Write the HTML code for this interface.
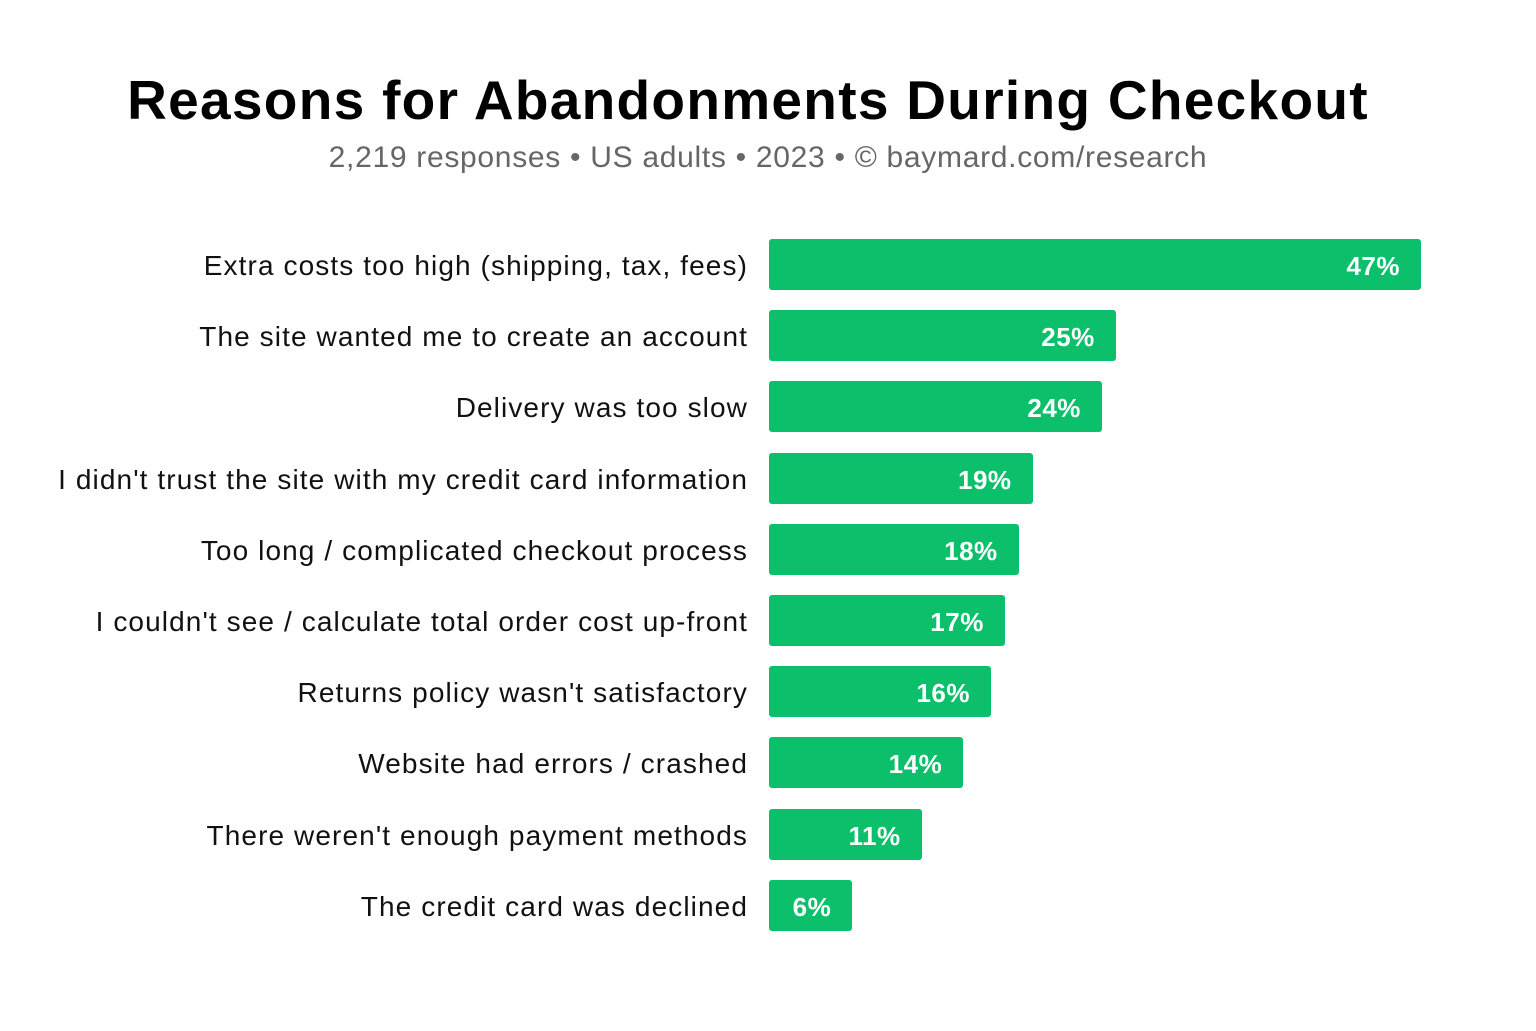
<!DOCTYPE html>
<html><head><meta charset="utf-8"><style>
body{margin:0;width:1536px;height:1031px;background:#fff;font-family:"Liberation Sans",sans-serif;position:relative;overflow:hidden}
#title{position:absolute;top:68px;left:0;width:1496px;text-align:center;font-size:55px;font-weight:bold;color:#000;letter-spacing:1.3px}
#sub{position:absolute;top:141px;left:0;width:1536px;text-align:center;font-size:30px;color:#666;letter-spacing:0.7px}
.lab{position:absolute;right:788px;font-size:28px;color:#111;white-space:nowrap;line-height:51px;letter-spacing:1.1px}
.bar{position:absolute;left:769px;height:51px;background:#0bbf6b;border-radius:3px}
.val{position:absolute;right:21px;top:0;line-height:55px;color:#fff;font-weight:bold;font-size:26px;letter-spacing:0.5px}
</style></head><body>
<div id="title">Reasons for Abandonments During Checkout</div>
<div id="sub">2,219 responses • US adults • 2023 • © baymard.com/research</div>
<div id="chart"></div>
<script>
const categories=["Extra costs too high (shipping, tax, fees)","The site wanted me to create an account","Delivery was too slow","I didn't trust the site with my credit card information","Too long / complicated checkout process","I couldn't see / calculate total order cost up-front","Returns policy wasn't satisfactory","Website had errors / crashed","There weren't enough payment methods","The credit card was declined"];
const values=[47,25,24,19,18,17,16,14,11,6];
const valueLabels=["47%","25%","24%","19%","18%","17%","16%","14%","11%","6%"];
const x=v=>v*652/47;
const y=i=>239+i*71.2;
const c=document.getElementById('chart');
categories.forEach((cat,i)=>{
  const l=document.createElement('div');
  l.className='lab';l.style.top=(y(i)+1)+'px';l.textContent=cat;
  
  
  c.appendChild(l);
  const b=document.createElement('div');
  b.className='bar';b.style.top=y(i)+'px';b.style.width=x(values[i])+'px';
  
  
  const v=document.createElement('div');
  v.className='val';v.textContent=valueLabels[i];
  
  
  b.appendChild(v);c.appendChild(b);
});
</script>
</body></html>
